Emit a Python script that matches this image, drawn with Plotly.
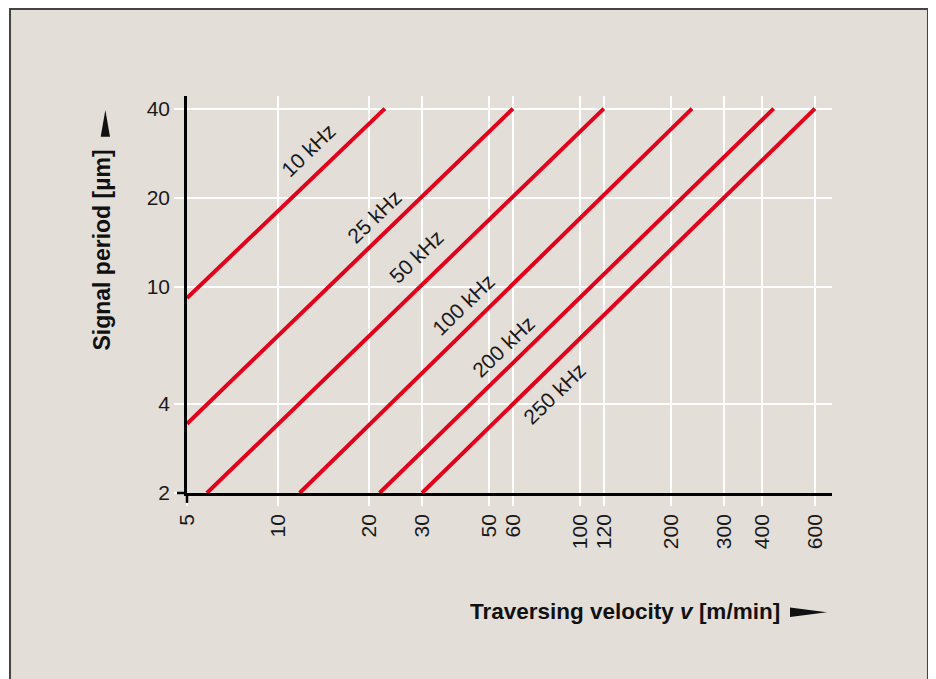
"""Signal period vs traversing velocity for several interpolation frequencies."""

import numpy as np
import plotly.graph_objects as go

# Data
freq_labels = ["10 kHz", "25 kHz", "50 kHz", "100 kHz", "200 kHz", "250 kHz"]
v_start = [5, 5, 5.82, 11.8, 21.7, 30]       # m/min
p_start = [9.14, 3.43, 2, 2, 2, 2]           # µm
v_end = [22.6, 60, 120, 235, 438, 600]       # m/min
p_end = [40, 40, 40, 40, 40, 40]             # µm

# where each frequency label sits (in data units)
label_v = [12.6, 20.9, 28.8, 41.2, 55.9, 82.5]
label_p = [28.8, 17.2, 12.6, 8.68, 6.26, 4.34]

x_ticks = [5, 10, 20, 30, 50, 60, 100, 120, 200, 300, 400, 600]
y_ticks = [2, 4, 10, 20, 40]

BG = "#E4DED9"
RED = "#E2001A"
FONT = "Liberation Sans, Arial, sans-serif"

fig = go.Figure()

for vs, ps, ve, pe in zip(v_start, p_start, v_end, p_end):
    fig.add_trace(go.Scatter(
        x=[vs, ve], y=[ps, pe],
        mode="lines",
        line=dict(color=RED, width=4),
        showlegend=False,
        hoverinfo="skip",
    ))

# labels along the lines
for txt, lv, lp in zip(freq_labels, label_v, label_p):
    fig.add_annotation(
        x=np.log10(lv), y=np.log10(lp), xref="x", yref="y",
        text=txt, showarrow=False, textangle=-44,
        xanchor="center", yanchor="middle",
        font=dict(family=FONT, size=21, color="#1a1a1a"),
    )

# axis titles
fig.add_annotation(
    x=-0.131, y=0.612, xref="paper", yref="paper",
    text="<b>Signal period [µm]</b>", showarrow=False, textangle=-90,
    xanchor="center", yanchor="middle",
    font=dict(family=FONT, size=23, color="#111111"),
)
fig.add_annotation(
    x=0.6783, y=-0.2997, xref="paper", yref="paper",
    text="<b>Traversing velocity <i>v</i> [m/min]</b>", showarrow=False,
    xanchor="center", yanchor="middle",
    font=dict(family=FONT, size=22.5, color="#111111"),
)

# arrow heads next to the axis titles
fig.add_shape(type="path", xref="paper", yref="paper",
              path="M 0.9349 -0.2884 L 0.9922 -0.3005 L 0.9349 -0.3123 Z",
              fillcolor="#111111", line=dict(width=0))
fig.add_shape(type="path", xref="paper", yref="paper",
              path="M -0.1338 0.8975 L -0.1266 0.9647 L -0.1194 0.8975 Z",
              fillcolor="#111111", line=dict(width=0))

# panel frame and axis line overshoots
fig.add_shape(type="rect", xref="paper", yref="paper",
              x0=-0.2744, x1=1.1488, y0=-0.55, y1=1.219,
              fillcolor=BG, line=dict(color="#444444", width=2), layer="below")
fig.add_shape(type="line", xref="paper", yref="paper",
              x0=-0.0155, x1=0, y0=0, y1=0,
              line=dict(color="black", width=2.5))
fig.add_shape(type="line", xref="paper", yref="paper",
              x0=0, x1=0, y0=-0.025, y1=0,
              line=dict(color="black", width=2.5))

# the page adds an 8 px body margin, so the margins are shifted by that
fig.update_layout(
    width=936, height=679,
    margin=dict(l=179, r=112, t=88, b=194),
    paper_bgcolor="white",
    plot_bgcolor="rgba(0,0,0,0)",
    showlegend=False,
    font=dict(family=FONT, size=21, color="#1a1a1a"),
)

fig.update_xaxes(
    type="log", range=[np.log10(5), np.log10(5) + 645 / 302],
    tickvals=x_ticks, ticktext=[str(t) for t in x_ticks], tickangle=-90,
    showgrid=True, gridcolor="white", gridwidth=2,
    ticks="outside", ticklen=10, tickwidth=2, tickcolor="white",
    showline=True, linecolor="black", linewidth=2.5,
    zeroline=False, tickfont=dict(size=21),
)
fig.update_yaxes(
    type="log", range=[np.log10(2), np.log10(2) + 397 / 295.4],
    tickvals=y_ticks, ticktext=[str(t) for t in y_ticks],
    showgrid=True, gridcolor="white", gridwidth=2,
    ticks="outside", ticklen=10, tickwidth=2, tickcolor="white",
    showline=True, linecolor="black", linewidth=2.5,
    zeroline=False, tickfont=dict(size=21),
)

fig.write_html("out.html")
